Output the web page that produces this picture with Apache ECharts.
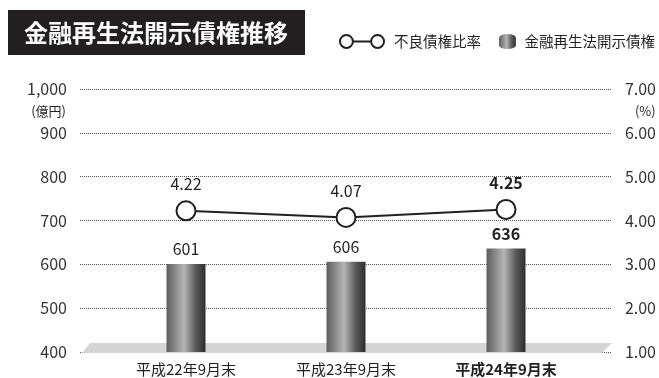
<!DOCTYPE html>
<html>
<head>
<meta charset="utf-8">
<script src="https://cdn.jsdelivr.net/npm/echarts@6/dist/echarts.min.js"></script>
<style>
  html, body { margin: 0; padding: 0; background: #fff; }
  #chart { width: 659px; height: 378px; }
</style>
</head>
<body>
<div id="chart"></div>
<script>
// Fiscal period labels (end of September)
const categories = ['平成22年9月末', '平成23年9月末', '平成24年9月末'];
// Disclosed claims under the Financial Reconstruction Act (億円)
const disclosedClaims = [601, 606, 636];
// Non-performing loan ratio (%)
const nplRatio = [4.22, 4.07, 4.25];
// Axis ranges
const amountRange = [400, 1000, 100];
const ratioRange = [1, 7, 1];

const FONT = '"Noto Sans CJK JP", "Noto Sans", sans-serif';
const INK = '#231f20';
const LATEST = categories.length - 1;

const barGradient = new echarts.graphic.LinearGradient(0, 0, 1, 0, [
  { offset: 0, color: '#5e5e5e' },
  { offset: 0.45, color: '#b4b4b6' },
  { offset: 0.75, color: '#5a5a5a' },
  { offset: 1, color: '#2e2e2e' }
]);

const chart = echarts.init(document.getElementById('chart'), null, { renderer: 'canvas' });

const lineIcon = 'path://M1.5,7.5 a6,6 0 1,0 12,0 a6,6 0 1,0 -12,0 M13.5,7.5 L30.5,7.5 M30.5,7.5 a6,6 0 1,0 12,0 a6,6 0 1,0 -12,0';
const cylIcon = 'path://M0,4 A9,4 0 0,1 18,4 L18,12 A9,4 0 0,1 0,12 Z';

const option = {
  animation: false,
  textStyle: { fontFamily: FONT, color: INK },
  title: {
    text: '金融再生法開示債権推移',
    left: 8,
    top: 10,
    backgroundColor: INK,
    padding: [10, 17, 10, 16],
    textStyle: { color: '#fff', fontSize: 24, fontWeight: 'bold', lineHeight: 25, fontFamily: FONT }
  },
  legend: [
    {
      data: ['不良債権比率'],
      left: 334, top: 29,
      itemWidth: 44, itemHeight: 15,
      icon: lineIcon,
      itemStyle: { color: '#fff', borderColor: INK, borderWidth: 2 },
      textStyle: { fontSize: 14.5, color: INK, padding: [0, 0, 0, 5], fontFamily: FONT }
    },
    {
      data: ['金融再生法開示債権'],
      left: 494, top: 29,
      itemWidth: 18, itemHeight: 15,
      icon: cylIcon,
      textStyle: { fontSize: 14.5, color: INK, padding: [0, 0, 0, 3], fontFamily: FONT }
    }
  ],
  grid: [
    // plotting area for the bars and the ratio line
    { left: 106, right: 73, top: 89, bottom: 26 },
    // wider area carrying the dotted guide lines and the tick labels
    { left: 80, right: 47, top: 89, bottom: 26 }
  ],
  xAxis: [
    {
      type: 'category',
      gridIndex: 0,
      data: categories.map((c, i) => i === LATEST ? { value: c, textStyle: { fontWeight: 'bold' } } : c),
      axisLine: { show: false },
      axisTick: { show: false },
      axisLabel: { fontSize: 15, color: INK, margin: 10, fontFamily: FONT }
    },
    { type: 'value', gridIndex: 1, show: false, splitLine: { show: false } }
  ],
  yAxis: [
    { type: 'value', gridIndex: 0, min: amountRange[0], max: amountRange[1], interval: amountRange[2], show: false },
    { type: 'value', gridIndex: 0, min: ratioRange[0], max: ratioRange[1], interval: ratioRange[2], show: false },
    {
      type: 'value', gridIndex: 1, position: 'left',
      min: amountRange[0], max: amountRange[1], interval: amountRange[2],
      name: '(億円)',
      nameLocation: 'end',
      nameGap: -11,
      nameTextStyle: { fontSize: 13, color: INK, align: 'right', verticalAlign: 'top', padding: [5, 14, 0, 0], fontFamily: FONT },
      axisLine: { show: false }, axisTick: { show: false },
      axisLabel: {
        fontSize: 16, color: '#333', margin: 13, fontFamily: FONT,
        formatter: v => v.toLocaleString('en-US')
      },
      splitLine: {
        show: true,
        lineStyle: { color: '#555', type: 'dotted', width: 1 }
      }
    },
    {
      type: 'value', gridIndex: 1, position: 'right',
      min: ratioRange[0], max: ratioRange[1], interval: ratioRange[2],
      name: '(%)',
      nameLocation: 'end',
      nameGap: -11,
      nameTextStyle: { fontSize: 13, color: INK, align: 'left', verticalAlign: 'top', padding: [5, 0, 0, 23], fontFamily: FONT },
      axisLine: { show: false }, axisTick: { show: false },
      axisLabel: {
        fontSize: 16, color: '#333', margin: 13, fontFamily: FONT,
        formatter: v => v.toFixed(2)
      },
      splitLine: { show: false }
    }
  ],
  graphic: [
    {
      // grey floor under the bars
      type: 'polygon',
      z: 1,
      shape: { points: [[90, 343], [612, 343], [602, 353], [82, 353]] },
      style: { fill: '#d4d4d4' }
    }
  ],
  series: [
    {
      name: '不良債権比率',
      type: 'line',
      xAxisIndex: 0,
      yAxisIndex: 1,
      z: 5,
      data: nplRatio.map((v, i) => i === LATEST ? { value: v, label: { fontWeight: 'bold' } } : v),
      symbol: 'circle',
      symbolSize: 19,
      itemStyle: { color: '#fff', borderColor: INK, borderWidth: 2 },
      lineStyle: { color: INK, width: 2 },
      label: {
        show: true, position: 'top', distance: 8,
        fontSize: 16, color: INK, fontFamily: FONT,
        formatter: p => p.value.toFixed(2)
      }
    },
    {
      name: '金融再生法開示債権',
      type: 'bar',
      xAxisIndex: 0,
      yAxisIndex: 0,
      z: 3,
      barWidth: 39,
      data: disclosedClaims.map((v, i) => i === LATEST ? { value: v, label: { fontWeight: 'bold' } } : v),
      itemStyle: { color: barGradient },
      label: {
        show: true, position: 'top', distance: 7,
        fontSize: 16, color: INK, fontFamily: FONT
      }
    }
  ]
};

chart.setOption(option);
</script>
</body>
</html>
